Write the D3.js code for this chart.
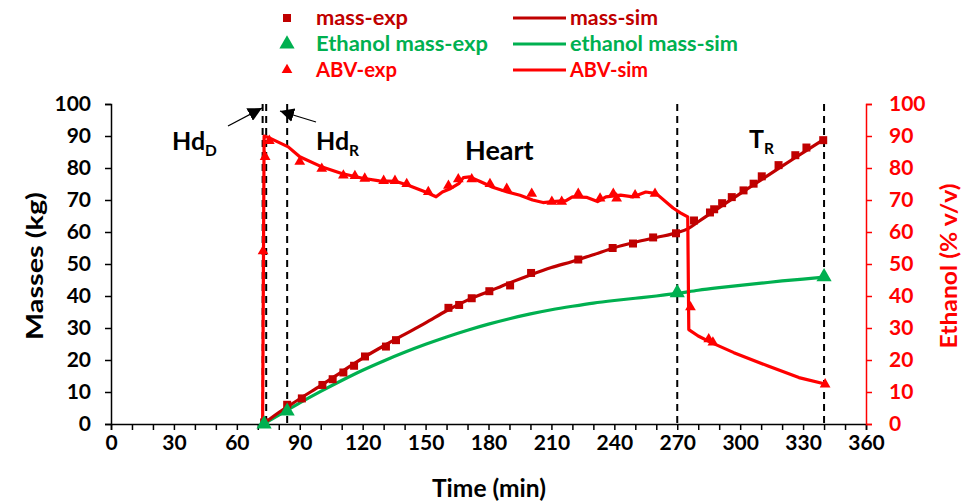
<!DOCTYPE html>
<html><head><meta charset="utf-8">
<script src="https://cdn.jsdelivr.net/npm/d3@7"></script>
<style>body{margin:0;background:#fff}svg{display:block}text{font-family:Lato,"Open Sans",sans-serif;font-weight:bold}</style>
</head><body>
<svg id="c" width="975" height="504"></svg>
<script>
// ---- data (time in min) ----
const massExp = [[73,0.5],[84,6],[91,8],[100.8,12.2],[105.7,14],[110.8,16.1],[115.9,18.2],[121.1,21.1],[131.1,24.2],[135.9,26.2],[160.9,36.3],[166,37.2],[172,39.3],[180.4,41.5],[190.3,43.3],[200.3,47.2],[222.8,51.4],[239.2,55],[248.9,56.4],[258.5,58.3],[269.4,59.6],[278,63.6],[285.6,66.1],[287.6,67.1],[291.4,69],[296,70.9],[301.6,73],[306.4,75.1],[310.3,77.4],[318.3,80.9],[326.3,84],[331.6,86.4],[339.6,88.7]];
const massSim = [[72.6,0],[80,3.6],[84,5.3],[90,7.9],[100,12],[110,16.3],[120,20.6],[130,24.4],[140,28],[150,31.6],[160,35.4],[170,38.7],[180,41.4],[190,44.1],[200,46.6],[210,48.9],[220,50.8],[230,52.9],[240,55.1],[250,56.8],[260,58.3],[270,59.8],[275,61],[280,63.2],[290,67.6],[300,72],[310,76.3],[320,80.6],[330,84.8],[340,89]];
const ethExp = [[73,0],[84,4],[270,41],[340,46]];
const ethSim = [[72.6,0],[80,2.8],[90,6.6],[100,10.2],[110,13.6],[120,16.8],[130,19.7],[140,22.4],[150,24.9],[160,27.2],[170,29.3],[180,31.2],[190,32.9],[200,34.4],[210,35.7],[220,36.8],[230,37.8],[240,38.6],[250,39.3],[260,40],[270,40.8],[280,41.8],[290,42.6],[300,43.3],[310,44],[320,44.7],[330,45.3],[340,45.9]];
const abvExp = [[72.5,54],[73.5,83.5],[75.5,88.5],[90,82],[100.5,79.8],[110.8,77.7],[116.3,77.5],[121,76.7],[130,76],[135.4,76],[141,75],[151.3,72.5],[160.9,74.5],[165.6,76.5],[172,76.5],[180.7,75],[188.7,73.5],[200.6,72],[210.2,69.5],[214.9,69.5],[222.8,72],[233.2,70.5],[239.5,72],[241.1,70.5],[249.9,71.5],[259.4,72],[276.3,36.5],[285,26.5],[287,25.5],[340.5,12.4]];
const abvSim = [[72.3,0],[73,90],[74.5,89.7],[80,88],[84.5,86.6],[90,83.5],[100,80.5],[110,78.3],[120,76.8],[128,76],[136,75.8],[142,74.5],[150,72.5],[155,71],[158,72.5],[162,73.6],[166,75.2],[168,77],[171,77.2],[176,75.8],[182,74],[189,72.5],[195,71.5],[201,70],[206,69.2],[212,69.6],[217,69.8],[220,71],[227,70.8],[232,69.5],[236,71],[243,71.5],[249,71],[255,72.5],[260,72],[268,67.5],[271.5,66],[275,64.7],[275.5,29.5],[280,27.5],[286,25.5],[297,22.3],[313,18.2],[328,14.5],[341,12.4]];
const cutTimes = [72.3, 74, 84, 270, 340];
const xMinor = d3.range(0, 361, 10);
const yTicks = d3.range(0, 101, 10);

const C_MASS = "#C00000", C_ETH = "#00B050", C_ABV = "#FF0000";
const svg = d3.select("#c");
const L = 111, R = 866, T = 104, B = 424;
const x = d3.scaleLinear().domain([0, 360]).range([L, R]);
const yL = d3.scaleLinear().domain([0, 100]).range([B, T]);
const yR = d3.scaleLinear().domain([0, 100]).range([B, T]);

// dashed cut lines
svg.append("g").selectAll("line").data(cutTimes).join("line")
  .attr("x1", d => x(d)).attr("x2", d => x(d)).attr("y1", T).attr("y2", B)
  .attr("stroke", "#000").attr("stroke-width", 2).attr("stroke-dasharray", "7,5");

// axes
const gx = svg.append("g").attr("transform", `translate(0,${B})`)
  .call(d3.axisBottom(x).tickValues(xMinor).tickSize(6).tickPadding(5).tickFormat(d => d % 30 === 0 ? d : ""));
gx.selectAll("text").attr("font-size", 21).attr("fill", "#000");
const gl = svg.append("g").attr("transform", `translate(${L},0)`)
  .call(d3.axisLeft(yL).tickValues(yTicks).tickSize(6).tickPadding(14));
gl.selectAll("text").attr("font-size", 21).attr("fill", "#000");
const gr = svg.append("g").attr("transform", `translate(${R},0)`)
  .call(d3.axisRight(yR).tickValues(yTicks).tickSize(6).tickPadding(17));
gr.selectAll("text").attr("font-size", 21).attr("fill", C_ABV);
gr.selectAll("line,path").attr("stroke", C_ABV);
[gx, gl].forEach(g => g.selectAll("line,path").attr("stroke", "#000").attr("stroke-width", 1.5));
gr.selectAll("line,path").attr("stroke-width", 1.5);
svg.selectAll(".domain").each(function(){ d3.select(this).attr("d", d3.select(this).attr("d").replace(/M[^V]*V6/,"")); });

// lines
const lineL = d3.line().x(d => x(d[0])).y(d => yL(d[1])).curve(d3.curveMonotoneX);
const lineR = d3.line().x(d => x(d[0])).y(d => yR(d[1]));
svg.append("path").datum(ethSim).attr("d", lineL).attr("fill", "none").attr("stroke", C_ETH).attr("stroke-width", 3.2);
svg.append("path").datum(massSim).attr("d", lineL).attr("fill", "none").attr("stroke", C_MASS).attr("stroke-width", 3.2);
svg.append("path").datum(abvSim).attr("d", lineR).attr("fill", "none").attr("stroke", C_ABV).attr("stroke-width", 3.2).attr("stroke-linejoin", "round");

// markers
const sq = d3.symbol(d3.symbolSquare, 64), triBig = d3.symbol(d3.symbolTriangle, 100), triSm = d3.symbol(d3.symbolTriangle, 50);
svg.append("g").selectAll("path").data(massExp).join("path")
  .attr("transform", d => `translate(${x(d[0])},${yL(d[1])})`).attr("d", sq).attr("fill", C_MASS);
svg.append("g").selectAll("path").data(abvExp).join("path")
  .attr("transform", d => `translate(${x(d[0])},${yR(d[1])})`).attr("d", triSm).attr("fill", C_ABV);
svg.append("g").selectAll("path").data(ethExp).join("path")
  .attr("transform", d => `translate(${x(d[0])},${yL(d[1])})`).attr("d", triBig).attr("fill", C_ETH);

// axis titles
svg.append("text").attr("x", 489).attr("y", 497).attr("text-anchor", "middle").attr("font-size", 24)
  .attr("textLength", 114).attr("lengthAdjust", "spacingAndGlyphs").text("Time (min)");
svg.append("text").attr("transform", `translate(43,${(T + B) / 2 + 2}) rotate(-90)`).attr("text-anchor", "middle").attr("font-size", 22)
  .attr("textLength", 148).attr("lengthAdjust", "spacingAndGlyphs").text("Masses (kg)");
svg.append("text").attr("transform", `translate(957,${(T + B) / 2 + 2}) rotate(-90)`).attr("text-anchor", "middle").attr("font-size", 22)
  .attr("textLength", 165).attr("lengthAdjust", "spacingAndGlyphs").attr("fill", C_ABV).text("Ethanol (% v/v)");

// annotations
function sub(xp, yp, main, s, size) {
  const t = svg.append("text").attr("x", xp).attr("y", yp).attr("font-size", size);
  t.append("tspan").text(main);
  t.append("tspan").attr("font-size", size * 0.62).attr("dy", 6).text(s);
}
sub(172, 150, "Hd", "D", 25);
sub(316, 150, "Hd", "R", 25);
svg.append("text").attr("x", 465).attr("y", 160).attr("font-size", 27).text("Heart");
sub(749, 148, "T", "R", 25);
svg.append("defs").append("marker").attr("id", "ah").attr("viewBox", "0 0 10 10").attr("refX", 10).attr("refY", 5)
  .attr("markerWidth", 14).attr("markerHeight", 14).attr("markerUnits", "userSpaceOnUse").attr("orient", "auto")
  .append("path").attr("d", "M0,0L10,5L0,10Z").attr("fill", "#000");
svg.append("line").attr("x1", 228).attr("y1", 126).attr("x2", 262).attr("y2", 108).attr("stroke", "#000").attr("stroke-width", 1.3).attr("marker-end", "url(#ah)");
svg.append("line").attr("x1", 316).attr("y1", 122).attr("x2", 280).attr("y2", 111).attr("stroke", "#000").attr("stroke-width", 1.3).attr("marker-end", "url(#ah)");

// legend
const legL = [["mass-exp", C_MASS, sq, 92], ["Ethanol mass-exp", C_ETH, triBig, 172], ["ABV-exp", C_ABV, triSm, 81]];
const legR = [["mass-sim", C_MASS, 88], ["ethanol mass-sim", C_ETH, 168], ["ABV-sim", C_ABV, 78]];
legL.forEach((d, i) => {
  const yy = 18 + i * 26;
  svg.append("path").attr("transform", `translate(287,${yy})`).attr("d", d[2]).attr("fill", d[1]);
  svg.append("text").attr("x", 316).attr("y", yy + 7).attr("font-size", 21).attr("fill", d[1])
    .attr("textLength", d[3]).attr("lengthAdjust", "spacingAndGlyphs").text(d[0]);
});
legR.forEach((d, i) => {
  const yy = 18 + i * 26;
  svg.append("line").attr("x1", 513).attr("x2", 566).attr("y1", yy).attr("y2", yy).attr("stroke", d[1]).attr("stroke-width", 3.2);
  svg.append("text").attr("x", 570).attr("y", yy + 7).attr("font-size", 21).attr("fill", d[1])
    .attr("textLength", d[2]).attr("lengthAdjust", "spacingAndGlyphs").text(d[0]);
});
</script>
</body></html>
